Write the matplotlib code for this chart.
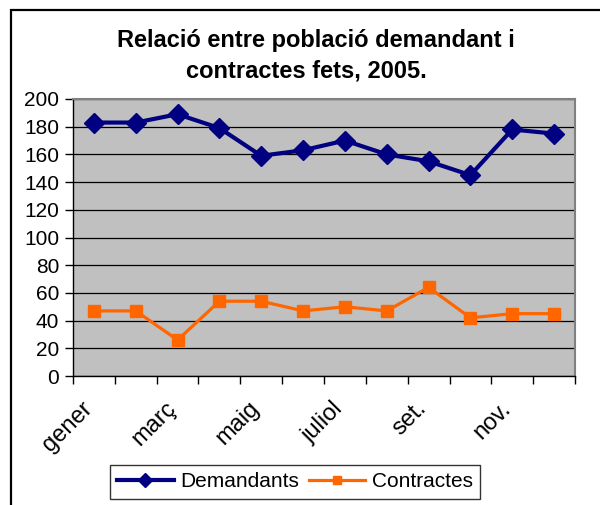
import numpy as np
import matplotlib
matplotlib.use("Agg")
import matplotlib.pyplot as plt
from matplotlib.patches import Rectangle
from matplotlib.transforms import ScaledTranslation

plt.rcParams['font.family'] = ['Liberation Sans', 'DejaVu Sans']

# dades llegides del grafic
mesos = ['gener', 'febrer', 'març', 'abril', 'maig', 'juny',
         'juliol', 'agost', 'set.', 'oct.', 'nov.', 'des.']
demandants = [183, 183, 189, 179, 159, 163, 170, 160, 155, 145, 178, 175]
contractes = [47, 47, 26, 54, 54, 47, 50, 47, 64, 42, 45, 45]
y_ticks = [0, 20, 40, 60, 80, 100, 120, 140, 160, 180, 200]

W, H = 600, 505
fig = plt.figure(figsize=(W / 100, H / 100), dpi=100)

# marc exterior del grafic
fig.patches.append(Rectangle((11 / W, -0.1), 1.2, 1 - 10 / H + 0.1,
                             transform=fig.transFigure, fill=False,
                             edgecolor='black', linewidth=1.6))

ax = fig.add_axes([73 / W, 1 - 376 / H, (575 - 73) / W, (376 - 99) / H])
ax.set_facecolor('#C0C0C0')

x = np.arange(len(mesos))
ax.plot(x, demandants, color='#000080', linewidth=3.0, marker='D',
        markersize=10, label='Demandants', zorder=3)
ax.plot(x, contractes, color='#FF6600', linewidth=2.3, marker='s',
        markersize=8, label='Contractes', zorder=3)

ax.set_xlim(-0.5, len(mesos) - 0.5)
ax.set_ylim(0, 200)
ax.set_yticks(y_ticks)
ax.yaxis.grid(True, color='black', linewidth=0.9)
ax.set_axisbelow(True)

# etiquetes cada dos mesos, marques entre categories
ax.set_xticks(x[::2])
ax.set_xticklabels(mesos[::2], rotation=45, ha='right', va='top',
                   rotation_mode='anchor')
ax.set_xticks(np.arange(-0.5, len(mesos)), minor=True)
ax.tick_params(axis='x', which='major', length=0, pad=14, labelsize=17)
ax.tick_params(axis='x', which='minor', length=6, width=1, direction='out')
ax.tick_params(axis='y', length=6, width=1, pad=4, labelsize=15)
shift = ScaledTranslation(-13 / 100, -2 / 100, fig.dpi_scale_trans)
for lab in ax.get_xticklabels():
    lab.set_transform(lab.get_transform() + shift)

for s in ['left', 'bottom']:
    ax.spines[s].set_color('black')
    ax.spines[s].set_linewidth(1.0)
for s in ['top', 'right']:
    ax.spines[s].set_color('#808080')
    ax.spines[s].set_linewidth(1.5)

fig.text(316 / W, 1 - 41 / H, 'Relació entre població demandant i',
         ha='center', va='center', fontsize=17, fontweight='bold')
fig.text(306 / W, 1 - 71 / H, 'contractes fets, 2005.',
         ha='center', va='center', fontsize=17, fontweight='bold')

leg = fig.legend(loc='upper left', bbox_to_anchor=(110 / W, 1 - 465 / H),
                 ncol=2, fontsize=15, frameon=True, fancybox=False,
                 handlelength=2.7, handletextpad=0.3, columnspacing=0.5,
                 borderpad=0.35, borderaxespad=0, markerscale=0.75)
leg.get_frame().set_edgecolor('black')
leg.get_frame().set_linewidth(1.0)

fig.savefig('out.png', dpi=100)
